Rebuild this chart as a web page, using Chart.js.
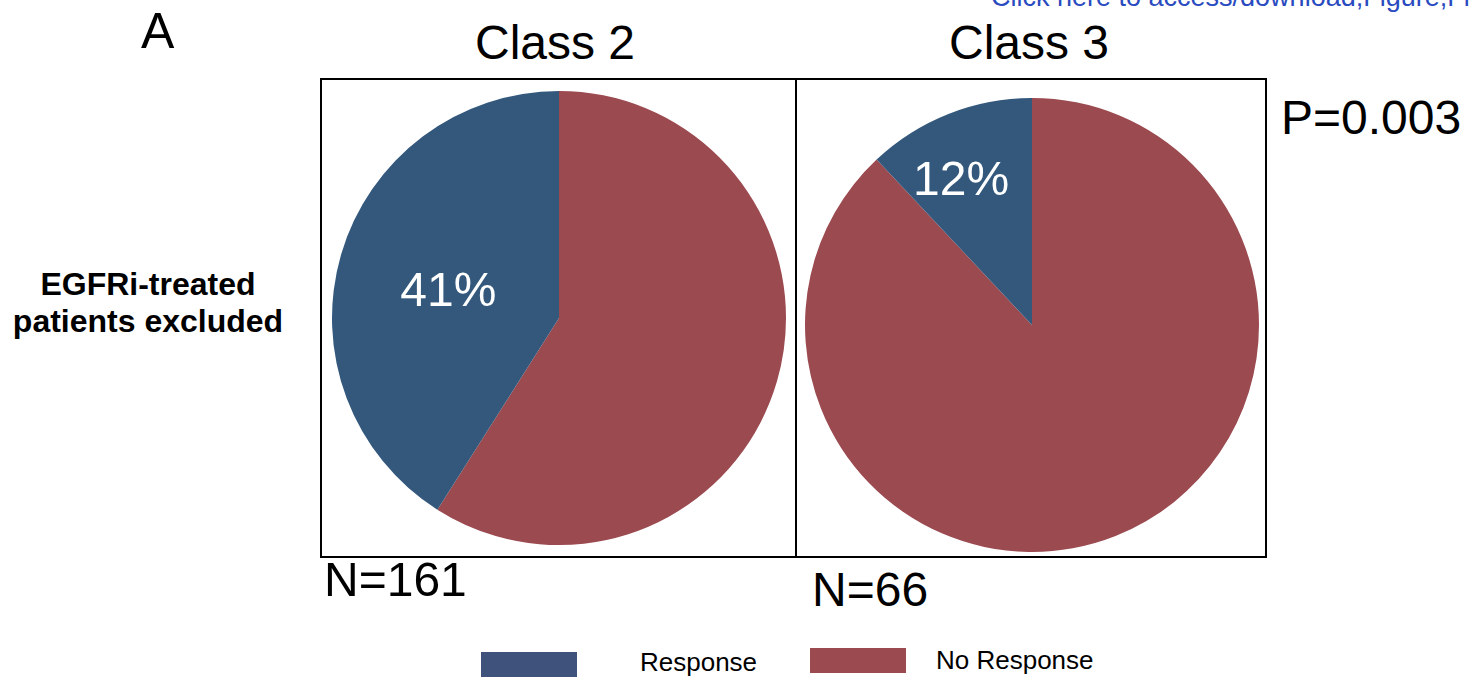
<!DOCTYPE html>
<html>
<head>
<meta charset="utf-8">
<script src="https://cdn.jsdelivr.net/npm/chart.js@4.4.1/dist/chart.umd.min.js"></script>
<style>
    body { margin: 0; background: #fff; }
    #lienzo { position: relative; width: 1470px; height: 679px; overflow: hidden; font-family: "Liberation Sans", Arial, sans-serif; color: #000; }
    .txt { position: absolute; line-height: 1; white-space: nowrap; }
    .caja { position: absolute; border: 2px solid #000; box-sizing: border-box; }
    canvas { position: absolute; }
    .muestra { position: absolute; width: 96px; height: 25px; }
</style>
</head>
<body>
<div id="lienzo">
    <div class="txt" style="left:991px; top:-16px; font-size:27px; color:#2a4bbf;">Click here to access/download;Figure;Figure 1.tif</div>
    <div class="txt" style="left:141px; top:6px; font-size:50px;">A</div>
    <div class="txt" id="titulo0" style="left:455px; width:200px; text-align:center; top:19px; font-size:48px;"></div>
    <div class="txt" id="titulo1" style="left:929px; width:200px; text-align:center; top:19px; font-size:48px;"></div>
    <div class="txt" style="left:1281px; top:94px; font-size:48px;">P=0.003</div>
    <div class="txt" style="left:0px; width:296px; text-align:center; top:266px; font-size:32px; font-weight:bold; line-height:37px;">EGFRi-treated<br>patients excluded</div>

    <div class="caja" style="left:320px; top:78px; width:477px; height:480px;"></div>
    <div class="caja" style="left:795px; top:78px; width:472px; height:480px;"></div>

    <canvas id="pie0" width="474" height="474" style="left:322px; top:81px;"></canvas>
    <canvas id="pie1" width="474" height="474" style="left:795px; top:88px;"></canvas>

    <div class="txt" id="n0" style="left:324px; top:556px; font-size:48px;"></div>
    <div class="txt" id="n1" style="left:812px; top:566px; font-size:48px;"></div>

    <div class="muestra" id="muestra0" style="left:481px; top:652px;"></div>
    <div class="txt" id="leyenda0" style="left:640px; top:649px; font-size:26px;"></div>
    <div class="muestra" id="muestra1" style="left:810px; top:648px;"></div>
    <div class="txt" id="leyenda1" style="left:936px; top:647px; font-size:26px;"></div>
</div>

<script>
// datos de la figura
const clases = ["Class 2", "Class 3"];
const pacientes = [161, 66];
const categorias = ["No Response", "Response"];
const respuesta = [41, 12];
const sinRespuesta = [59, 88];

const COLOR_RESP = "#33587c";
const COLOR_NORESP = "#9b4a50";
const LEYENDA_RESP = "#3f527b";
const LEYENDA_NORESP = "#9b4a4f";

// donde va la etiqueta de porcentaje: fraccion del radio y giro (grados) respecto al centro del arco
const factorEtiqueta = [0.5, 0.705];
const giroEtiqueta = [-3.5, -4.7];

const etiquetaPorcentaje = {
    id: 'etiquetaPorcentaje',
    afterDatasetsDraw(chart, args, opts) {
        var ctx = chart.ctx;
        var arco = chart.getDatasetMeta(0).data[1];
        var medio = (arco.startAngle + arco.endAngle) / 2 + opts.giro * Math.PI / 180;
        var r = arco.outerRadius * opts.factor;
        var x = arco.x + Math.cos(medio) * r;
        var y = arco.y + Math.sin(medio) * r;
        ctx.save();
        ctx.fillStyle = "#ffffff";
        ctx.font = '48px "Liberation Sans", Arial, sans-serif';
        ctx.textAlign = "center";
        ctx.textBaseline = "middle";
        ctx.fillText(chart.data.datasets[0].data[1] + "%", x, y);
        ctx.restore();
    }
};

function crearPie(i) {
    var ctx = document.getElementById('pie' + i).getContext('2d');
    return new Chart(ctx, {
        type: 'pie',
        data: {
            labels: categorias,
            datasets: [{
                data: [sinRespuesta[i], respuesta[i]],
                backgroundColor: [COLOR_NORESP, COLOR_RESP],
                borderWidth: 0,
                hoverOffset: 0
            }]
        },
        options: {
            responsive: false,
            animation: false,
            devicePixelRatio: 1,
            events: [],
            layout: { padding: 10 },
            plugins: {
                legend: { display: false },
                tooltip: { enabled: false },
                etiquetaPorcentaje: { factor: factorEtiqueta[i], giro: giroEtiqueta[i] }
            }
        },
        plugins: [etiquetaPorcentaje]
    });
}

for (var i = 0; i < clases.length; i++) {
    document.getElementById('titulo' + i).textContent = clases[i];
    document.getElementById('n' + i).textContent = "N=" + pacientes[i];
    crearPie(i);
}

document.getElementById('muestra0').style.background = LEYENDA_RESP;
document.getElementById('muestra1').style.background = LEYENDA_NORESP;
document.getElementById('leyenda0').textContent = categorias[1];
document.getElementById('leyenda1').textContent = categorias[0];
</script>
</body>
</html>
